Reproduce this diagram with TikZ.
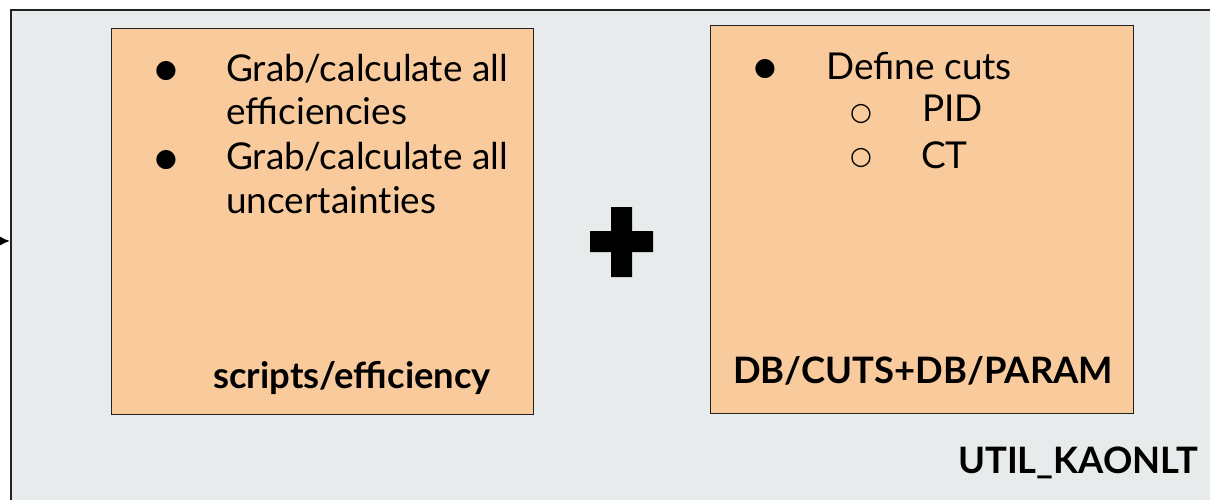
\documentclass[tikz,border=0pt]{standalone}
\usepackage{fontspec}
\setmainfont{Lato}
\newfontfamily\symfont{DejaVu Sans}
\usetikzlibrary{arrows.meta}
\definecolor{bggray}{HTML}{E8EBEC}
\definecolor{boxorange}{HTML}{F9CB9C}
\definecolor{edgegray}{HTML}{222222}
\tikzset{
  panel/.style={draw=edgegray, line width=1.4pt, fill=boxorange, rectangle, inner sep=0pt, anchor=north west},
  itemtext/.style={anchor=base west, inner sep=0pt, font=\fontsize{37}{44}\selectfont},
  boldlabel/.style={anchor=base west, inner sep=0pt, font=\fontsize{36.4}{40}\selectfont\bfseries},
  bulletmark/.style={anchor=center, inner sep=0pt, font=\symfont\fontsize{25}{25}\selectfont},
}
\begin{document}
\begin{tikzpicture}[x=1pt,y=-1pt]
\useasboundingbox (0,0) rectangle (1210,500);
\fill[white] (0,0) rectangle (1210,500);
\begin{scope}
\clip (0,0) rectangle (1210,500);
\node[draw=edgegray, line width=2pt, fill=bggray, anchor=north west, inner sep=0pt,
      minimum width=1220pt, minimum height=510pt] (frame) at (10,9) {};
\end{scope}
% arrow entering the frame
\coordinate (arrstart) at (-20,241);
\draw[line width=1.5pt, -{Latex[length=10pt,width=9pt]}] (arrstart) -- (arrstart -| frame.west);
% panels
\node[panel, minimum width=422pt, minimum height=386pt] (left) at (111,28) {};
\node[panel, minimum width=423pt, minimum height=388pt] (right) at (710,25) {};
% left panel text
\node[bulletmark] (lb1) at (166,71) {●};
\node[itemtext] (lt1) at (226,82) {Grab/calculate all};
\node[itemtext] (lt2) at (226,125) {efficiencies};
\node[bulletmark] (lb2) at (166,160) {●};
\node[itemtext] (lt3) at (226,169) {Grab/calculate all};
\node[itemtext] (lt4) at (226,213) {uncertaint\kern0pt ies};
\node[boldlabel] (llab) at (213,388) {scripts/efficiency};
% right panel text
\node[bulletmark] (rb1) at (765,69) {●};
\node[itemtext] (rt1) at (826,80) {Define cuts};
\node[bulletmark] (rs1) at (861,114) {○};
\node[itemtext] (rt2) at (922,122) {PID};
\node[bulletmark] (rs2) at (861,158) {○};
\node[itemtext] (rt3) at (921,168) {CT};
\node[boldlabel] (rlab) at (733,383) {DB/CUTS+DB/PARAM};
% plus sign
\fill[black] (611,207) -- (632,207) -- (632,231) -- (653,231) -- (653,252) -- (632,252)
  -- (632,277) -- (611,277) -- (611,252) -- (590,252) -- (590,231) -- (611,231) -- cycle;
% frame label
\node[boldlabel] (flab) at (958,473) {UTIL\_KAONLT};
\end{tikzpicture}
\end{document}
